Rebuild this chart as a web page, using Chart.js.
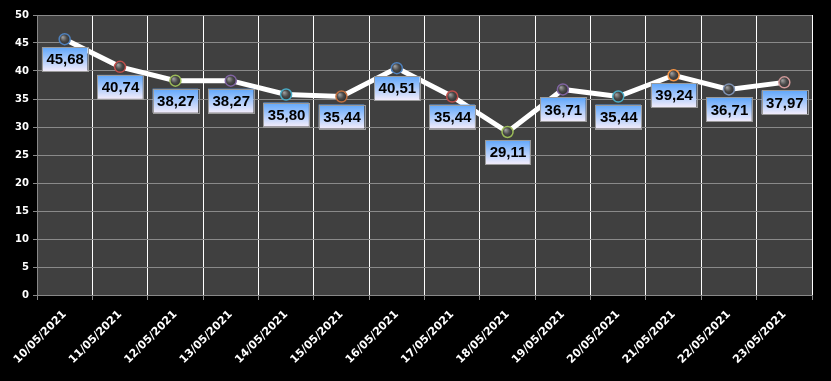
<!DOCTYPE html>
<html><head><meta charset="utf-8">
<script src="https://cdn.jsdelivr.net/npm/chart.js@4/dist/chart.umd.min.js"></script>
<style>html,body{margin:0;padding:0;background:#000}#wrap{width:831px;height:381px}</style>
</head><body><div id="wrap"><canvas id="c" width="831" height="381"></canvas></div>
<script>
const categories = ["10/05/2021","11/05/2021","12/05/2021","13/05/2021","14/05/2021","15/05/2021","16/05/2021","17/05/2021","18/05/2021","19/05/2021","20/05/2021","21/05/2021","22/05/2021","23/05/2021"];
const values = [45.68,40.74,38.27,38.27,35.80,35.44,40.51,35.44,29.11,36.71,35.44,39.24,36.71,37.97];
const yTicks = [0,5,10,15,20,25,30,35,40,45,50];
const pointColors = ["#4f81bd","#c0504d","#9bbb59","#8064a2","#4bacc6","#c07040","#4f81bd","#c0504d","#9bbb59","#8064a2","#4bacc6","#f79646","#7f93b5","#d09a9a"];

const bgPlugin = {
  id:'bg',
  beforeDraw(chart){
    const {ctx, chartArea:a} = chart;
    ctx.save();
    ctx.fillStyle = '#000';
    ctx.fillRect(0,0,chart.width,chart.height);
    ctx.fillStyle = '#404040';
    ctx.fillRect(a.left,a.top,a.right-a.left,a.bottom-a.top);
    ctx.restore();
  }
};
const pointShade = {
  id:'pshade',
  afterDatasetsDraw(chart){
    const ctx = chart.ctx;
    const meta = chart.getDatasetMeta(0);
    ctx.save();
    meta.data.forEach((p,i)=>{
      const g = ctx.createRadialGradient(p.x-2,p.y-2,0.5,p.x,p.y,6);
      g.addColorStop(0,'#9a9a9a');
      g.addColorStop(0.5,'#4a4a4a');
      g.addColorStop(1,'#2a2a2a');
      ctx.beginPath();
      ctx.arc(p.x,p.y,5.5,0,Math.PI*2);
      ctx.fillStyle = g;
      ctx.fill();
      ctx.lineWidth = 1.5;
      ctx.strokeStyle = pointColors[i];
      ctx.stroke();
    });
    ctx.restore();
  }
};
const labelPlugin = {
  id:'lbl',
  afterDatasetsDraw(chart){
    const ctx = chart.ctx;
    const meta = chart.getDatasetMeta(0);
    ctx.save();
    ctx.font = 'bold 15px "Liberation Sans", Arial, sans-serif';
    ctx.textAlign = 'center';
    ctx.textBaseline = 'middle';
    meta.data.forEach((p,i)=>{
      const txt = values[i].toFixed(2).replace('.',',');
      const w = ctx.measureText(txt).width + 8;
      const h = 24;
      const x = p.x - w/2, y = p.y + 8;
      const g = ctx.createLinearGradient(0,y,0,y+h);
      g.addColorStop(0,'#5ea6fb');
      g.addColorStop(1,'#f2ecfb');
      ctx.fillStyle = g;
      ctx.fillRect(x,y,w,h);
      ctx.lineWidth = 1;
      ctx.strokeStyle = '#9a9a9a';
      ctx.strokeRect(Math.round(x)+0.5,Math.round(y)+0.5,Math.round(w),h);
      ctx.fillStyle = '#000';
      ctx.fillText(txt,p.x+0.5,y+h/2+1);
    });
    ctx.restore();
  }
};

new Chart(document.getElementById('c'),{
  type:'line',
  data:{labels:categories,datasets:[{
    data:values,
    borderColor:'#ffffff',
    borderWidth:5,
    tension:0,
    pointRadius:0,
    pointHoverRadius:0
  }]},
  options:{
    responsive:false,
    animation:false,
    events:[],
    layout:{padding:{top:15,right:19,left:0,bottom:0}},
    plugins:{legend:{display:false},tooltip:{enabled:false}},
    scales:{
      x:{
        offset:true,
        grid:{offset:true,color:'#ffffff',lineWidth:1,drawTicks:true,tickLength:5,tickColor:'#888'},
        border:{color:'#888'},
        ticks:{color:'#fff',maxRotation:45,minRotation:45,autoSkip:false,font:{family:'"DejaVu Sans"',weight:'bold',size:11},padding:8},
        afterFit(s){s.height=86;}
      },
      y:{
        min:0,max:50,
        afterBuildTicks(s){s.ticks=yTicks.map(v=>({value:v}));},
        grid:{color:'#8a8a8a',lineWidth:1,tickLength:4,tickColor:'#888'},
        border:{color:'#888'},
        ticks:{color:'#fff',font:{family:'"DejaVu Sans"',weight:'bold',size:10},padding:4},
        afterFit(s){s.width=37;}
      }
    }
  },
  plugins:[bgPlugin,pointShade,labelPlugin]
});
</script></body></html>
